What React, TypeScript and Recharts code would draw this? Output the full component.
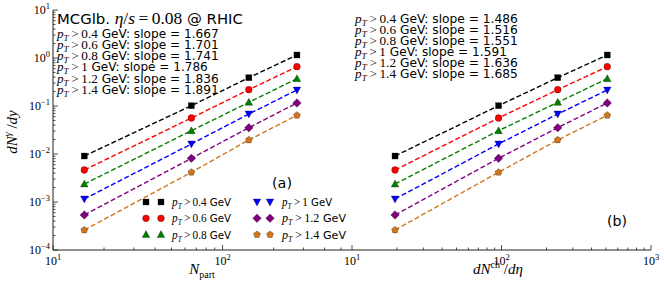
import React, { useLayoutEffect, useRef, useState } from 'react';
import { ScatterChart, Scatter, XAxis, YAxis } from 'recharts';

// pT cuts, x positions (Npart and dNch/deta) and photon yields per cut
const ptCuts = ['0.4', '0.6', '0.8', '1', '1.2', '1.4'];
const npart = [15.3, 65.5, 142.9, 274.6];
const dnchDeta = [19.4, 95.6, 237.7, 510];
const yield04 = [0.00908, 0.1015, 0.389, 1.155];
const yield06 = [0.00464, 0.0562, 0.219, 0.659];
const yield08 = [0.00237, 0.0306, 0.119, 0.371];
const yield10 = [0.001155, 0.0162, 0.0681, 0.2154];
const yield12 = [0.000536, 0.00813, 0.0353, 0.1155];
const yield14 = [0.000261, 0.00416, 0.0196, 0.064];
const slopesNpart = ['1.667', '1.701', '1.741', '1.786', '1.836', '1.891'];
const slopesDnch = ['1.486', '1.516', '1.551', '1.591', '1.636', '1.685'];

const yields = [yield04, yield06, yield08, yield10, yield12, yield14];
const colors = ['#000000', '#ff0000', '#008000', '#0000ff', '#800080', '#d2761c'];
const shapes = ['square', 'circle', 'triangle', 'tridown', 'diamond', 'pentagon'];

const decades = (lo: number, hi: number) => {
  const out: number[] = [];
  for (let e = lo; e <= hi; e++) {
    for (let m = 1; m <= 9; m++) out.push(m * Math.pow(10, e));
  }
  return out;
};
const yTicks = decades(-4, 0).concat([10]);
const xTicksL = decades(1, 1).concat([100, 200, 300, 400, 500]);
const xTicksR = decades(1, 2).concat([1000]);

const isMajor = (v: number) => Math.abs(Math.log10(v) - Math.round(Math.log10(v))) < 1e-6;
const expOf = (v: number) => {
  const e = Math.round(Math.log10(v));
  return e < 0 ? '\u2212' + Math.abs(e) : String(e);
};

const AX = '#222';
const serif = 'Liberation Serif, DejaVu Serif, serif';
const sans = 'DejaVu Sans';
const SANS = { fontFamily: sans };
const SERIF = { fontFamily: serif };

const Marker = ({ cx, cy, shape, color }: any) => {
  const st = { fill: color, stroke: '#000', strokeWidth: 0.4, strokeOpacity: 0.7 };
  if (shape === 'square') return <rect x={cx - 3} y={cy - 3} width={6} height={6} {...st} />;
  if (shape === 'circle') return <circle cx={cx} cy={cy} r={3.4} {...st} />;
  if (shape === 'triangle')
    return <polygon points={`${cx},${cy - 4} ${cx - 3.8},${cy + 3} ${cx + 3.8},${cy + 3}`} {...st} />;
  if (shape === 'tridown')
    return <polygon points={`${cx},${cy + 4} ${cx - 3.8},${cy - 3} ${cx + 3.8},${cy - 3}`} {...st} />;
  if (shape === 'diamond')
    return <polygon points={`${cx},${cy - 4.3} ${cx + 4.3},${cy} ${cx},${cy + 4.3} ${cx - 4.3},${cy}`} {...st} />;
  const pts = [0, 1, 2, 3, 4]
    .map((i) => {
      const a = -Math.PI / 2 + (i * 2 * Math.PI) / 5;
      return `${cx + 3.6 * Math.cos(a)},${cy + 3.6 * Math.sin(a)}`;
    })
    .join(' ');
  return <polygon points={pts} {...st} />;
};

const XTick = ({ x, y, payload, top, label }: any) => {
  const v = payload.value;
  const major = isMajor(v);
  const len = major ? 5 : 2.5;
  return (
    <g>
      <line x1={x} x2={x} y1={y} y2={top ? y + len : y - len} stroke={AX} strokeWidth={0.8} />
      {label && major && (
        <text x={x} y={y + 15} textAnchor="middle" style={SERIF} fontSize={12} fill="#000">
          10<tspan dy={-5} fontSize={8.5}>{expOf(v)}</tspan>
        </text>
      )}
    </g>
  );
};

const YTick = ({ x, y, payload, right, label }: any) => {
  const v = payload.value;
  const major = isMajor(v);
  const len = major ? 5 : 2.5;
  return (
    <g>
      <line x1={x} x2={right ? x - len : x + len} y1={y} y2={y} stroke={AX} strokeWidth={0.8} />
      {label && major && (
        <text x={x - 3} y={y + 4} textAnchor="end" style={SERIF} fontSize={12} fill="#000">
          10<tspan dy={-5} fontSize={8.5}>{expOf(v)}</tspan>
        </text>
      )}
    </g>
  );
};

const Panel = ({ xs, domain, ticks, width, left, margin, yLabels }: any) => (
  <ScatterChart
    width={width}
    height={288}
    margin={margin}
    style={{ position: 'absolute', left, top: 0 }}
  >
    <XAxis
      dataKey="x"
      type="number"
      scale="log"
      domain={domain}
      allowDataOverflow
      ticks={ticks}
      interval={0}
      height={38}
      tickSize={0}
      tickMargin={0}
      tickLine={false}
      axisLine={{ stroke: AX }}
      tick={<XTick label />}
    />
    <XAxis
      xAxisId="top"
      orientation="top"
      type="number"
      scale="log"
      domain={domain}
      allowDataOverflow
      ticks={ticks}
      interval={0}
      height={0}
      tickSize={0}
      tickMargin={0}
      tickLine={false}
      axisLine={{ stroke: AX }}
      tick={<XTick top />}
    />
    <YAxis
      dataKey="y"
      type="number"
      scale="log"
      domain={[1e-4, 10]}
      allowDataOverflow
      ticks={yTicks}
      interval={0}
      width={yLabels ? 53 : 0}
      tickSize={0}
      tickMargin={0}
      tickLine={false}
      axisLine={{ stroke: AX }}
      tick={<YTick label={yLabels} />}
    />
    <YAxis
      yAxisId="right"
      orientation="right"
      type="number"
      scale="log"
      domain={[1e-4, 10]}
      allowDataOverflow
      ticks={yTicks}
      interval={0}
      width={0}
      tickSize={0}
      tickMargin={0}
      tickLine={false}
      axisLine={{ stroke: AX }}
      tick={<YTick right />}
    />
    {yields.map((ys, s) => (
      <Scatter
        key={s}
        data={xs.map((x: number, i: number) => ({ x, y: ys[i] }))}
        fill={colors[s]}
        line={{ stroke: colors[s], strokeWidth: 1.4, strokeDasharray: '5 2.5' }}
        lineType="joint"
        shape={(p: any) => <Marker cx={p.cx} cy={p.cy} shape={shapes[s]} color={colors[s]} />}
        isAnimationActive={false}
      />
    ))}
  </ScatterChart>
);

const PtLabel = ({ cut, size }: any) => (
  <>
    <tspan style={SERIF} fontStyle="italic" fontSize={size + 1}>p</tspan>
    <tspan style={SERIF} fontStyle="italic" fontSize={size - 3} dy={3}>T</tspan>
    <tspan style={SERIF} fontSize={size + 1} dy={-3}>{'\u2009>\u2009' + cut}</tspan>
  </>
);

// text stretched horizontally to the width it takes in the figure
const FitText = ({ x, y, width, children, ...rest }: any) => {
  const ref = useRef<SVGTextElement>(null);
  const [sx, setSx] = useState(1);
  useLayoutEffect(() => {
    if (ref.current) {
      const w = ref.current.getBBox().width;
      if (w > 0) setSx(width / w);
    }
  }, [width]);
  return (
    <g transform={`translate(${x},${y}) scale(${sx},1)`}>
      <text ref={ref} x={0} y={0} {...rest}>
        {children}
      </text>
    </g>
  );
};

const lineWidth = (cut: string, full: number) => (cut.length === 1 ? full - 11 : full);
const legendWidth = (i: number) => (i < 3 ? 61 : i === 3 ? 52 : 66);

const App: React.FC = () => {
  return (
    <div style={{ position: 'absolute', left: 0, top: 0, width: 664, height: 288, background: '#fff' }}>
      <Panel
        xs={npart}
        domain={[10, 580]}
        ticks={xTicksL}
        width={353}
        left={0}
        margin={{ top: 10, right: 1, bottom: 0, left: 0 }}
        yLabels
      />
      <Panel
        xs={dnchDeta}
        domain={[10, 1000]}
        ticks={xTicksR}
        width={344}
        left={320}
        margin={{ top: 10, right: 13, bottom: 0, left: 32 }}
      />
      <svg
        width={664}
        height={288}
        style={{ position: 'absolute', left: 0, top: 0, pointerEvents: 'none' }}
      >
        <FitText x={57} y={23.5} width={186} style={SANS} fontSize={14.5}>
          MCGlb.{' '}
          <tspan style={SERIF} fontStyle="italic" fontSize={17}>η</tspan>
          <tspan style={SERIF} fontSize={17}>/</tspan>
          <tspan style={SERIF} fontStyle="italic" fontSize={17}>s</tspan>
          <tspan style={SERIF} fontSize={17}>{'\u2009=\u20090.08'}</tspan> @ RHIC
        </FitText>
        {ptCuts.map((c, i) => (
          <FitText key={'l' + i} x={57} y={37.7 + i * 11.2} width={lineWidth(c, 163)} style={SANS} fontSize={12}>
            <PtLabel cut={c} size={12} />
            <tspan>{' GeV: slope = ' + slopesNpart[i]}</tspan>
          </FitText>
        ))}
        {ptCuts.map((c, i) => (
          <FitText key={'r' + i} x={355} y={22.7 + i * 11.15} width={lineWidth(c, 164)} style={SANS} fontSize={12}>
            <PtLabel cut={c} size={12} />
            <tspan>{' GeV: slope = ' + slopesDnch[i]}</tspan>
          </FitText>
        ))}
        {ptCuts.map((c, i) => {
          const col = i < 3 ? 0 : 1;
          const row = i % 3;
          const cy = 202 + row * 16.3;
          const mx = col === 0 ? [146, 161] : [257, 270];
          const tx = col === 0 ? 172 : 282;
          return (
            <g key={'lg' + i}>
              {mx.map((m) => (
                <Marker key={m} cx={m} cy={cy} shape={shapes[i]} color={colors[i]} />
              ))}
              <FitText x={tx} y={cy + 4} width={legendWidth(i)} style={SANS} fontSize={10.5}>
                <PtLabel cut={c} size={10.5} />
                <tspan>{' GeV'}</tspan>
              </FitText>
            </g>
          );
        })}
        <FitText x={272} y={188} width={20} style={SANS} fontSize={14.5}>(a)</FitText>
        <FitText x={607} y={226} width={20} style={SANS} fontSize={14.5}>(b)</FitText>
        <text x={202} y={274} textAnchor="middle" style={SERIF} fontSize={15}>
          <tspan fontStyle="italic">N</tspan>
          <tspan fontSize={10} dy={4}>part</tspan>
        </text>
        <text x={498} y={274} textAnchor="middle" style={SERIF} fontSize={15}>
          <tspan fontStyle="italic">dN</tspan>
          <tspan fontSize={10} dy={-6}>ch</tspan>
          <tspan dy={6}>{' /'}</tspan>
          <tspan fontStyle="italic">dη</tspan>
        </text>
        <text
          transform="translate(17,132) rotate(-90)"
          textAnchor="middle"
          style={SERIF}
          fontSize={15}
        >
          <tspan fontStyle="italic">dN</tspan>
          <tspan fontStyle="italic" fontSize={10} dy={-6}>γ</tspan>
          <tspan dy={6}>{' /'}</tspan>
          <tspan fontStyle="italic">dy</tspan>
        </text>
      </svg>
    </div>
  );
};

export default App;
